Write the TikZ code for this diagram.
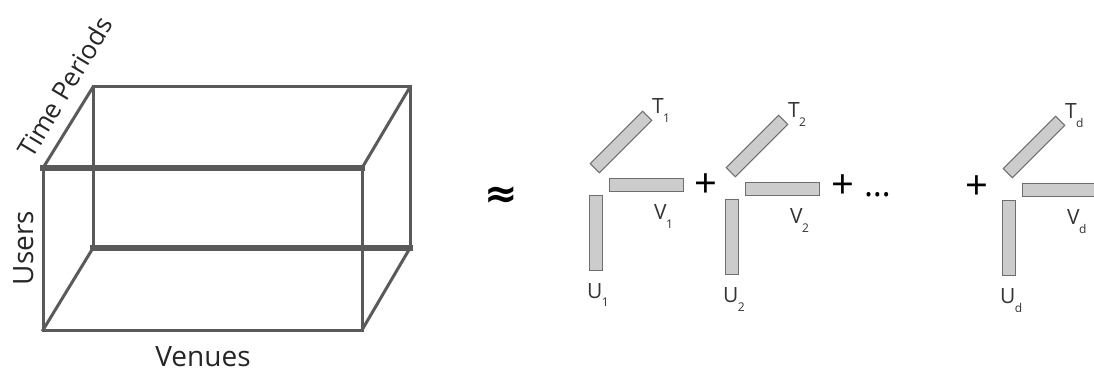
\documentclass[tikz,border=0pt]{standalone}
\usepackage{fontspec}
\setmainfont{Open Sans}
\newfontfamily\symbolfont{DejaVu Sans}
\usepackage{tikz}
\usetikzlibrary{positioning}
\definecolor{boxgray}{HTML}{5A5A5A}
\definecolor{barfill}{HTML}{CCCCCC}
\definecolor{barline}{HTML}{6E6E6E}
\newcommand{\factorlabel}[2]{#1\hspace{-0.5pt}\raisebox{-9pt}{\fontsize{12}{12}\selectfont #2}}

\begin{document}
\begin{tikzpicture}[x=1pt, y=-1pt, every node/.style={inner sep=0pt, outer sep=0pt},
    edge/.style={draw=boxgray, line width=3pt, line cap=rect},
    rim/.style={draw=boxgray, line width=5.5pt, line cap=rect},
    axis/.style={font=\fontsize{28}{28}\selectfont, text=black!85},
    bar/.style={draw=barline, fill=barfill, line width=1pt, minimum width=74pt, minimum height=13pt},
    tag/.style={font=\fontsize{21}{21}\selectfont, text=black!80, anchor=base west},
    plus/.style={font=\fontsize{40}{40}\selectfont},
    simsign/.style={font=\fontsize{40}{40}\symbolfont\bfseries}]
  \useasboundingbox[fill=white] (0,0) rectangle (1094,379);
  % tensor box
  \coordinate (fa) at (43,168);
  \coordinate (fb) at (362,168);
  \coordinate (fc) at (362,330);
  \coordinate (fd) at (43,330);
  \coordinate (ba) at (93,87);
  \coordinate (bb) at (410,87);
  \coordinate (bc) at (410,248);
  \coordinate (bd) at (93,248);
  \draw[edge] (fb) -- (fc) -- (fd) -- (fa);
  \draw[edge] (bd) -- (ba) -- (bb) -- (bc);
  \foreach \p/\q in {fa/ba,fb/bb,fc/bc,fd/bd}{\draw[edge] (\p) -- (\q);}
  \draw[rim] (fa) -- (fb);
  \draw[rim] (bd) -- (bc);
  \node[axis] (venues) at (203,357) {Venues};
  \node[axis, rotate=90] (users) at (24,248) {Users};
  \node[axis, font=\fontsize{26}{26}\selectfont, rotate=59] (time) at (65,87) {Time Periods};
  \node[simsign] (approxsign) at (501,197) {≈};
  % rank-one factors
  \foreach \dx/\dy/\k in {0/0/1,136/4/2,413/5/d}{
    \begin{scope}[shift={(\dx,\dy)}]
      \node[bar, rotate=45] (t\k) at (621,142) {};
      \node[bar] (v\k) at (646,185) {};
      \node[bar, rotate=90] (u\k) at (596,233) {};
      \node[tag] (tl\k) at (652,114) {\factorlabel{T}{\k}};
      \node[tag] (vl\k) at (654,220) {\factorlabel{V}{\k}};
      \node[tag] (ul\k) at (587,298) {\factorlabel{U}{\k}};
    \end{scope}
  }
  \node[plus] (plusa) at (706,186) {+};
  \node[plus] (plusb) at (843,187) {+};
  \node[font=\fontsize{34}{34}\selectfont, anchor=base west] (dots) at (864,197) {\dots};
  \node[plus] (plusc) at (977,188) {+};
\end{tikzpicture}
\end{document}
